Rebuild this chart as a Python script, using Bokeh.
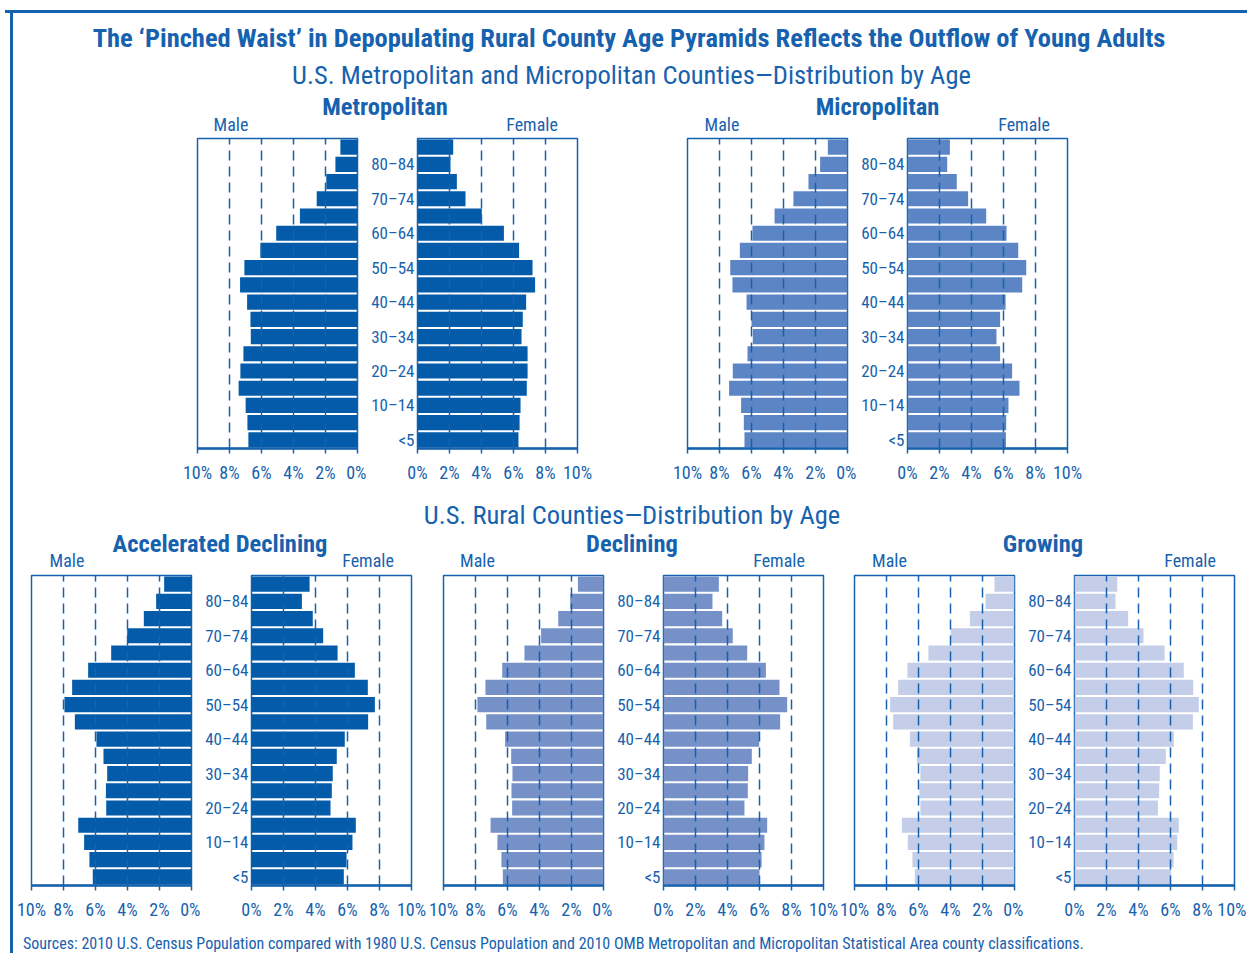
from bokeh.plotting import figure
from bokeh.models import Range1d, FixedTicker, ColumnDataSource, Div, Spacer
from bokeh.layouts import row, column
from bokeh.embed import file_html
from bokeh.resources import INLINE

# ---------------- data (percent of population, <5 first ... 85+ last) ----------------
AGE_GROUPS = ["<5", "5–9", "10–14", "15–19", "20–24", "25–29", "30–34", "35–39", "40–44",
              "45–49", "50–54", "55–59", "60–64", "65–69", "70–74", "75–79", "80–84", "85+"]
AGE_TICKS = [0, 2, 4, 6, 8, 10, 12, 14, 16]
PCT_TICKS = [0, 2, 4, 6, 8, 10]
PCT_LABELS = ["0%", "2%", "4%", "6%", "8%", "10%"]

metro_male = [6.82, 6.88, 6.99, 7.43, 7.32, 7.13, 6.67, 6.69, 6.90, 7.34, 7.07, 6.07, 5.08, 3.60, 2.55, 1.95, 1.38, 1.07]
metro_female = [6.31, 6.38, 6.44, 6.83, 6.88, 6.88, 6.50, 6.58, 6.79, 7.35, 7.19, 6.35, 5.40, 4.02, 3.00, 2.46, 2.06, 2.23]
micro_male = [6.44, 6.48, 6.65, 7.40, 7.17, 6.25, 5.92, 6.00, 6.31, 7.19, 7.33, 6.73, 5.94, 4.56, 3.38, 2.44, 1.71, 1.23]
micro_female = [6.15, 6.17, 6.31, 7.00, 6.54, 5.79, 5.56, 5.79, 6.13, 7.17, 7.42, 6.92, 6.19, 4.92, 3.79, 3.08, 2.48, 2.65]
accel_male = [6.17, 6.38, 6.71, 7.08, 5.33, 5.35, 5.27, 5.50, 5.94, 7.29, 7.94, 7.46, 6.46, 5.02, 4.02, 2.98, 2.21, 1.71]
accel_female = [5.77, 5.94, 6.31, 6.52, 4.94, 5.02, 5.08, 5.33, 5.83, 7.29, 7.71, 7.27, 6.46, 5.38, 4.48, 3.83, 3.15, 3.63]
decl_male = [6.29, 6.38, 6.63, 7.06, 5.71, 5.75, 5.69, 5.77, 6.15, 7.33, 7.88, 7.38, 6.33, 4.94, 3.90, 2.83, 2.08, 1.60]
decl_female = [6.00, 6.13, 6.31, 6.48, 5.06, 5.27, 5.29, 5.52, 5.98, 7.29, 7.73, 7.25, 6.40, 5.23, 4.33, 3.67, 3.06, 3.46]
grow_male = [6.23, 6.38, 6.67, 7.04, 5.88, 5.94, 5.88, 6.10, 6.54, 7.58, 7.77, 7.27, 6.69, 5.38, 3.98, 2.79, 1.81, 1.25]
grow_female = [6.04, 6.19, 6.42, 6.52, 5.21, 5.29, 5.33, 5.71, 6.21, 7.40, 7.77, 7.42, 6.83, 5.63, 4.31, 3.35, 2.56, 2.67]

TITLE = "The \u2018Pinched Waist\u2019 in Depopulating Rural County Age Pyramids Reflects the Outflow of Young Adults"
SUB1 = "U.S. Metropolitan and Micropolitan Counties\u2014Distribution by Age"
SUB2 = "U.S. Rural Counties\u2014Distribution by Age"
SOURCE = ("Sources: 2010 U.S. Census Population compared with 1980 U.S. Census Population and 2010 "
          "OMB Metropolitan and Micropolitan Statistical Area county classifications.")

# ---------------- style ----------------
TXT = "#1762AE"
LINE = "#1762AE"
C_DARK = "#035BA9"
C_MID = "#5C85C5"
C_DECL = "#7591C8"
C_LIGHT = "#C4CEE8"
FONT = "Roboto Condensed"
CSS_FONT = "'Roboto Condensed', sans-serif"

FRAME_W, FRAME_H = 160, 310
TOP, BOTTOM = 2, 40
ML, MR = 15, 9      # male figure borders
FL = 51             # female figure left border (holds age labels)


def half(values, color, side, ml, mr):
    src = ColumnDataSource(dict(y=list(range(len(AGE_GROUPS))), v=values))
    xr = Range1d(10, 0) if side == "male" else Range1d(0, 10)
    p = figure(frame_width=FRAME_W, frame_height=FRAME_H, x_range=xr, y_range=Range1d(-0.5, 17.5),
               toolbar_location=None, output_backend="svg",
               y_axis_location=("left" if side == "female" else None),
               min_border_left=ml, min_border_right=mr, min_border_top=TOP, min_border_bottom=BOTTOM,
               background_fill_color="white", border_fill_color="white", margin=0)
    p.hbar(y="y", left=0, right="v", height=0.88, source=src, fill_color=color, line_color=None)
    p.outline_line_color = LINE
    p.outline_line_width = 1.5
    xa = p.xaxis[0]
    xa.ticker = FixedTicker(ticks=PCT_TICKS)
    xa.major_label_overrides = {t: l for t, l in zip(PCT_TICKS, PCT_LABELS)}
    xa.major_tick_out = 5
    xa.major_tick_in = 0
    xa.minor_tick_line_color = None
    xa.major_tick_line_color = LINE
    xa.major_tick_line_width = 1.5
    xa.axis_line_color = LINE
    xa.axis_line_width = 2.5
    xa.major_label_standoff = 8
    xa.major_label_text_font = FONT
    xa.major_label_text_font_size = "18px"
    xa.major_label_text_color = TXT
    if side == "female":
        ya = p.yaxis[0]
        ya.ticker = FixedTicker(ticks=AGE_TICKS)
        ya.major_label_overrides = {t: AGE_GROUPS[t] for t in AGE_TICKS}
        ya.major_tick_out = 0
        ya.major_tick_in = 0
        ya.major_tick_line_color = None
        ya.minor_tick_line_color = None
        ya.axis_line_color = None
        ya.major_label_standoff = 3
        ya.major_label_text_font = FONT
        ya.major_label_text_font_size = "17px"
        ya.major_label_text_color = TXT
    p.xgrid.ticker = FixedTicker(ticks=[2, 4, 6, 8])
    p.xgrid.grid_line_color = LINE
    p.xgrid.grid_line_width = 1.5
    p.xgrid.grid_line_dash = "10 6"
    p.xgrid.level = "overlay"
    p.ygrid.visible = False
    return p


def band(width, height, items, lines):
    html = (f'<div style="position:relative;width:{width}px;height:{height}px;overflow:hidden;'
            f'font-family:{CSS_FONT};color:{TXT};">')
    for (x0, y0, w, h) in lines:
        html += (f'<div style="position:absolute;left:{x0}px;top:{y0}px;width:{w}px;height:{h}px;'
                 f'background:{LINE};"></div>')
    for (text, x, y, size, bold, anchor) in items:
        tr = "translate(-50%,-50%)" if anchor == "center" else "translate(0,-50%)"
        html += (f'<div style="position:absolute;left:{x}px;top:{y}px;transform:{tr};white-space:nowrap;'
                 f'font-size:{size}px;line-height:1;font-weight:{"bold" if bold else "normal"};">{text}</div>')
    html += "</div>"
    return Div(text=html, width=width, height=height, margin=0)


W = 1247
LX = 10  # left frame line x

bandA = band(W, 136, [
    (TITLE, 629, 38, 26.5, True, "center"),
    (SUB1, 631.5, 75, 26.5, False, "center"),
    ("Metropolitan", 385, 107, 24.5, True, "center"),
    ("Micropolitan", 877.5, 107, 24.5, True, "center"),
    ("Male", 231, 124.5, 18, False, "center"),
    ("Female", 532, 124.5, 18, False, "center"),
    ("Male", 722, 124.5, 18, False, "center"),
    ("Female", 1024, 124.5, 18, False, "center"),
], [(5, 10, W - 5, 3), (LX, 10, 3, 126)])

left1 = band(182, 352, [], [(LX, 0, 3, 352)])
row1 = row(left1,
           half(metro_male, C_DARK, "male", ML, MR), half(metro_female, C_DARK, "female", FL, 15),
           Spacer(width=80, height=352, margin=0),
           half(micro_male, C_MID, "male", ML, MR), half(micro_female, C_MID, "female", FL, 15),
           margin=0)

bandB = band(W, 85, [
    (SUB2, 632, 27, 26.5, False, "center"),
    ("Accelerated Declining", 220, 56, 24.5, True, "center"),
    ("Declining", 632, 56, 24.5, True, "center"),
    ("Growing", 1043, 56, 24.5, True, "center"),
    ("Male", 67, 73, 18, False, "center"),
    ("Female", 368, 73, 18, False, "center"),
    ("Male", 477.5, 73, 18, False, "center"),
    ("Female", 779, 73, 18, False, "center"),
    ("Male", 889.5, 73, 18, False, "center"),
    ("Female", 1190, 73, 18, False, "center"),
], [(LX, 0, 3, 85)])

left2 = band(16, 352, [], [(LX, 0, 3, 352)])
row2 = row(left2,
           half(accel_male, C_DARK, "male", ML, MR), half(accel_female, C_DARK, "female", FL, 15),
           Spacer(width=2, height=352, margin=0),
           half(decl_male, C_DECL, "male", ML, MR), half(decl_female, C_DECL, "female", FL, 15),
           Spacer(width=1, height=352, margin=0),
           half(grow_male, C_LIGHT, "male", ML, MR), half(grow_female, C_LIGHT, "female", FL, 12),
           margin=0)

bandC = band(W, 28, [(SOURCE, 23, 19, 16, False, "left")], [(LX, 0, 3, 28)])

layout = column(bandA, row1, bandB, row2, bandC, margin=0)

open("out.html", "w").write(file_html(layout, INLINE))
